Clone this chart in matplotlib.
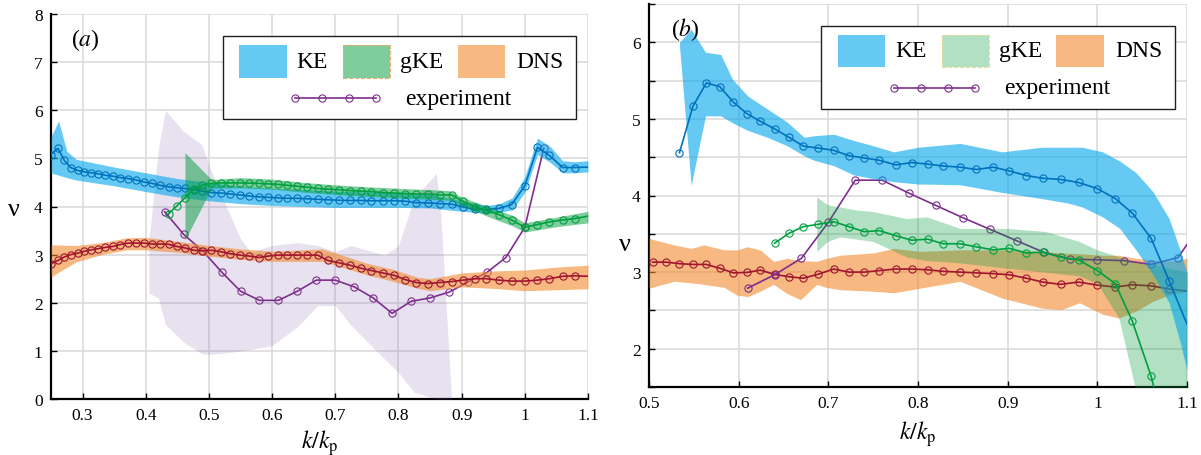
import numpy as np
import matplotlib
matplotlib.use('Agg')
import matplotlib.pyplot as plt
from matplotlib.patches import Rectangle
from matplotlib.lines import Line2D
from matplotlib.ticker import FixedLocator, FuncFormatter

plt.rcParams['font.family'] = ['Liberation Serif', 'DejaVu Serif']
plt.rcParams['mathtext.fontset'] = 'stix'

# ---------------- shared wavenumber grid (k/kp) ----------------
k = [0.250, 0.261, 0.271, 0.281, 0.292, 0.303, 0.314, 0.325, 0.336, 0.348,
     0.360, 0.372, 0.385, 0.397, 0.410, 0.423, 0.436, 0.449, 0.462, 0.476,
     0.489, 0.504, 0.519, 0.534, 0.549, 0.564, 0.579, 0.594, 0.609, 0.624,
     0.640, 0.656, 0.672, 0.688, 0.706, 0.723, 0.740, 0.757, 0.775, 0.793,
     0.811, 0.828, 0.847, 0.865, 0.884, 0.902, 0.921, 0.939, 0.959, 0.979,
     1.000, 1.020, 1.039, 1.060, 1.080, 1.100]

# ---------------- panel (a) ----------------
ke_a = [5.08, 5.21, 4.96, 4.81, 4.75, 4.72, 4.70, 4.68, 4.65, 4.63,
        4.60, 4.58, 4.55, 4.51, 4.48, 4.44, 4.41, 4.39, 4.375, 4.35,
        4.32, 4.29, 4.28, 4.26, 4.24, 4.22, 4.20, 4.19, 4.18, 4.17,
        4.17, 4.16, 4.15, 4.14, 4.13, 4.125, 4.125, 4.12, 4.12, 4.12,
        4.11, 4.08, 4.075, 4.06, 4.05, 3.99, 3.94, 3.94, 3.96, 4.04,
        4.43, 5.23, 5.06, 4.81, 4.81, 4.82]
dns_a = [2.81, 2.88, 2.95, 3.00, 3.03, 3.07, 3.10, 3.125, 3.15, 3.17,
         3.21, 3.24, 3.24, 3.24, 3.22, 3.22, 3.215, 3.17, 3.14, 3.09,
         3.08, 3.09, 3.06, 3.02, 2.99, 2.97, 2.94, 2.97, 2.99, 2.99,
         2.99, 2.99, 2.99, 2.88, 2.83, 2.78, 2.72, 2.67, 2.62, 2.57,
         2.48, 2.42, 2.40, 2.42, 2.44, 2.47, 2.50, 2.50, 2.47, 2.45,
         2.45, 2.47, 2.50, 2.55, 2.56, 2.55]
gke_a_start = 16
gke_a = [3.85, 4.01, 4.18, 4.36, 4.44, 4.48, 4.49, 4.49, 4.49, 4.486,
         4.48, 4.47, 4.46, 4.44, 4.42, 4.40, 4.375, 4.36, 4.35, 4.33,
         4.32, 4.31, 4.29, 4.28, 4.27, 4.26, 4.26, 4.24, 4.24, 4.11,
         3.99, 3.92, 3.83, 3.72, 3.57, 3.625, 3.68, 3.72, 3.75, 3.80]

exp_a_k = [0.43, 0.46, 0.49, 0.52, 0.55, 0.58, 0.61, 0.64, 0.67, 0.70, 0.73,
           0.76, 0.79, 0.82, 0.85, 0.88, 0.91, 0.94, 0.97, 1.00, 1.03]
exp_a = [3.89, 3.42, 3.08, 2.64, 2.24, 2.05, 2.05, 2.24, 2.47, 2.47, 2.33,
         2.10, 1.78, 2.03, 2.10, 2.22, 2.43, 2.63, 2.94, 3.57, 5.21]

# uncertainty bands (a)
ke_a_bk = [0.250, 0.262, 0.275, 0.29, 0.35, 0.40, 0.45, 0.50, 0.55, 0.60, 0.65,
           0.70, 0.75, 0.80, 0.85, 0.90, 0.94, 0.96, 0.98, 1.00, 1.02, 1.04,
           1.06, 1.08, 1.10]
ke_a_lo = [4.70, 4.65, 4.60, 4.55, 4.43, 4.31, 4.20, 4.12, 4.06, 4.02, 4.00,
           3.98, 3.98, 3.98, 3.97, 3.90, 3.86, 3.88, 3.93, 4.30, 5.08, 4.92,
           4.70, 4.70, 4.72]
ke_a_hi = [5.45, 5.78, 5.15, 4.98, 4.82, 4.70, 4.58, 4.50, 4.42, 4.38, 4.35,
           4.32, 4.30, 4.28, 4.25, 4.12, 4.02, 4.06, 4.18, 4.62, 5.42, 5.25,
           4.95, 4.93, 4.95]

gke_a_bk = [0.462, 0.504, 0.55, 0.60, 0.65, 0.70, 0.75, 0.80, 0.85, 0.88,
            0.90, 0.94, 0.98, 1.00, 1.05, 1.10]
gke_a_lo = [3.30, 4.38, 4.39, 4.36, 4.30, 4.25, 4.21, 4.18, 4.15, 4.13,
            4.02, 3.80, 3.60, 3.47, 3.58, 3.66]
gke_a_hi = [5.12, 4.56, 4.60, 4.57, 4.50, 4.45, 4.41, 4.38, 4.35, 4.33,
            4.20, 4.00, 3.82, 3.66, 3.78, 3.90]

dns_a_bk = [0.25, 0.26, 0.29, 0.33, 0.37, 0.40, 0.45, 0.50, 0.55, 0.60, 0.65,
            0.68, 0.72, 0.75, 0.79, 0.83, 0.85, 0.90, 0.95, 1.00, 1.05, 1.10]
dns_a_lo = [2.53, 2.62, 2.85, 3.00, 3.10, 3.10, 3.05, 2.97, 2.90, 2.86, 2.86,
            2.86, 2.70, 2.58, 2.45, 2.30, 2.25, 2.33, 2.30, 2.25, 2.27, 2.29]
dns_a_hi = [3.20, 3.20, 3.19, 3.25, 3.35, 3.36, 3.28, 3.19, 3.12, 3.07, 3.10,
            3.12, 2.95, 2.82, 2.70, 2.53, 2.50, 2.62, 2.66, 2.68, 2.74, 2.78]

exp_a_bk = [0.405, 0.420, 0.431, 0.460, 0.489, 0.500, 0.529, 0.550, 0.566,
            0.600, 0.640, 0.672, 0.700, 0.725, 0.778, 0.800, 0.825, 0.860,
            0.867, 0.873, 0.884]
exp_a_lo = [2.20, 2.10, 1.55, 1.18, 0.94, 0.93, 0.96, 1.00, 1.03, 1.11, 1.50,
            1.94, 1.94, 1.53, 0.83, 0.55, 0.14, 0.0, 0.0, 0.0, 0.0]
exp_a_hi = [3.30, 5.20, 6.00, 5.56, 5.28, 4.86, 3.96, 3.33, 3.06, 3.19, 3.25,
            3.19, 3.06, 3.19, 2.99, 3.19, 4.17, 4.69, 3.82, 2.50, 0.0]

# ---------------- panel (b) ----------------
ke_b_start = 23
ke_b = [4.56, 5.165, 5.47, 5.42, 5.22, 5.07, 4.97, 4.87, 4.76, 4.645,
        4.62, 4.59, 4.52, 4.49, 4.46, 4.40, 4.43, 4.41, 4.385, 4.37,
        4.34, 4.37, 4.32, 4.26, 4.225, 4.21, 4.17, 4.09, 3.96, 3.77,
        3.44, 2.89, 2.32]
gke_b_start = 30
gke_b = [3.377, 3.506, 3.593, 3.623, 3.658, 3.593, 3.528, 3.541, 3.476, 3.416,
         3.43, 3.37, 3.37, 3.33, 3.29, 3.31, 3.25, 3.26, 3.195, 3.16,
         3.02, 2.85, 2.36, 1.64, 0.70]
dns_b_start = 21
dns_b = [3.13, 3.13, 3.11, 3.10, 3.10, 3.05, 2.99, 2.995, 3.026, 2.97,
         2.94, 2.92, 2.97, 3.04, 3.00, 3.00, 3.02, 3.04, 3.04, 3.03,
         3.01, 3.00, 2.99, 2.98, 2.965, 2.92, 2.87, 2.84, 2.87, 2.83,
         2.805, 2.835, 2.82, 2.78, 2.75]
exp_b_k = [0.61, 0.64, 0.67, 0.70, 0.73, 0.76, 0.79, 0.82, 0.85, 0.88, 0.91,
           0.94, 0.97, 1.00, 1.03, 1.06, 1.09, 1.12]
exp_b = [2.79, 2.965, 3.18, 3.65, 4.20, 4.20, 4.03, 3.87, 3.71, 3.56, 3.41,
         3.26, 3.17, 3.16, 3.15, 3.10, 3.19, 3.70]

ke_b_bk = [0.534, 0.547, 0.563, 0.580, 0.593, 0.610, 0.632, 0.654, 0.673, 0.684,
           0.706, 0.728, 0.750, 0.773, 0.800, 0.847, 0.894, 0.938, 0.968, 0.983,
           1.006, 1.025, 1.043, 1.062, 1.080, 1.092, 1.100]
ke_b_lo = [5.95, 4.13, 5.04, 5.04, 4.95, 4.85, 4.76, 4.65, 4.52, 4.46,
           4.39, 4.27, 4.22, 4.18, 4.15, 4.14, 4.04, 3.96, 3.90, 3.85,
           3.72, 3.57, 3.29, 2.97, 2.60, 2.10, 1.72]
ke_b_hi = [6.00, 6.17, 5.87, 5.84, 5.52, 5.30, 5.13, 4.96, 4.76, 4.78,
           4.80, 4.72, 4.65, 4.57, 4.63, 4.68, 4.57, 4.63, 4.63, 4.63,
           4.57, 4.45, 4.30, 4.05, 3.70, 3.30, 3.00]

gke_b_bk = [0.687, 0.699, 0.713, 0.732, 0.750, 0.787, 0.810, 0.847, 0.900,
            0.942, 0.980, 1.000, 1.024, 1.043, 1.062, 1.080, 1.100]
gke_b_lo = [3.27, 3.40, 3.46, 3.43, 3.40, 3.20, 3.15, 3.12, 3.05, 3.00, 2.95,
            2.85, 2.40, 1.45, 0.80, 0.50, 0.30]
gke_b_hi = [3.98, 3.88, 3.85, 3.81, 3.79, 3.70, 3.72, 3.57, 3.57, 3.53, 3.40,
            3.29, 3.20, 3.12, 3.10, 3.05, 3.00]

dns_b_bk = [0.500, 0.528, 0.547, 0.561, 0.584, 0.598, 0.610, 0.624, 0.639, 0.654,
            0.669, 0.687, 0.698, 0.713, 0.750, 0.773, 0.802, 0.847, 0.894, 0.938,
            0.960, 0.980, 1.006, 1.024, 1.043, 1.062, 1.080, 1.100]
dns_b_lo = [2.79, 2.88, 2.86, 2.84, 2.80, 2.70, 2.68, 2.75, 2.84, 2.72,
            2.64, 2.84, 2.80, 2.77, 2.75, 2.73, 2.79, 2.88, 2.66, 2.53,
            2.51, 2.60, 2.45, 2.40, 2.49, 2.62, 2.70, 2.75]
dns_b_hi = [3.44, 3.355, 3.31, 3.355, 3.29, 3.29, 3.33, 3.29, 3.14, 3.18,
            3.15, 3.14, 3.18, 3.22, 3.25, 3.31, 3.27, 3.29, 3.29, 3.27,
            3.25, 3.24, 3.22, 3.22, 3.18, 3.16, 3.14, 3.18]

legend_labels = ['KE', 'gKE', 'DNS', 'experiment']

# ---------------- styles ----------------
C_KE_LINE = '#0072BD'
C_GKE_LINE = '#00A040'
C_DNS_LINE = '#A2142F'
C_EXP_LINE = '#7E2F8E'
C_KE_FILL = '#00A6EB'
C_GKE_FILL = '#009A3A'
C_DNS_FILL = '#F28A2E'
C_EXP_FILL = '#8060B0'
A_KE, A_DNS, A_EXP = 0.6, 0.6, 0.18
A_GKE_A, A_GKE_B = 0.5, 0.3

LW = 1.2
MS = 5.2
MEW = 0.8

fig = plt.figure(figsize=(12.01, 4.56), dpi=100)
axA = fig.add_axes([51 / 1201, 1 - 400 / 456, 537 / 1201, 385 / 456])
axB = fig.add_axes([649 / 1201, 1 - 388 / 456, 538 / 1201, 383 / 456])


def line(ax, x, y, color, z, nomark_last=False):
    n = len(x)
    me = list(range(n - 1)) if nomark_last else None
    ax.plot(x, y, '-', color=color, lw=LW, marker='o', ms=MS, mfc='none',
            mec=color, mew=MEW, markevery=me, zorder=z)


def band(ax, x, lo, hi, color, alpha, z):
    ax.fill_between(x, lo, hi, color=color, alpha=alpha, lw=0, zorder=z)


# ---- panel (a) ----
band(axA, exp_a_bk, exp_a_lo, exp_a_hi, C_EXP_FILL, A_EXP, 2)
line(axA, exp_a_k, exp_a, C_EXP_LINE, 3)
band(axA, dns_a_bk, dns_a_lo, dns_a_hi, C_DNS_FILL, A_DNS, 4)
line(axA, k, dns_a, C_DNS_LINE, 5, nomark_last=True)
band(axA, ke_a_bk, ke_a_lo, ke_a_hi, C_KE_FILL, A_KE, 6)
line(axA, k, ke_a, C_KE_LINE, 7, nomark_last=True)
band(axA, gke_a_bk, gke_a_lo, gke_a_hi, C_GKE_FILL, A_GKE_A, 8)
line(axA, k[gke_a_start:], gke_a, C_GKE_LINE, 9, nomark_last=True)

# ---- panel (b) ----
band(axB, dns_b_bk, dns_b_lo, dns_b_hi, C_DNS_FILL, A_DNS, 2)
line(axB, k[dns_b_start:], dns_b, C_DNS_LINE, 3, nomark_last=True)
line(axB, exp_b_k, exp_b, C_EXP_LINE, 3.5)
band(axB, gke_b_bk, gke_b_lo, gke_b_hi, C_GKE_FILL, A_GKE_B, 4)
line(axB, k[gke_b_start:gke_b_start + len(gke_b)], gke_b, C_GKE_LINE, 5)
band(axB, ke_b_bk, ke_b_lo, ke_b_hi, C_KE_FILL, A_KE, 6)
line(axB, k[ke_b_start:], ke_b, C_KE_LINE, 7, nomark_last=True)

# ---- axes styling ----
fmt = FuncFormatter(lambda v, p: f'{v:g}')
for ax in (axA, axB):
    ax.grid(True, color='#D8D8D8', lw=1.1, zorder=0)
    ax.set_axisbelow(True)
    for s in ('top', 'right'):
        ax.spines[s].set_visible(False)
    for s in ('left', 'bottom'):
        ax.spines[s].set_linewidth(1.6)
        ax.spines[s].set_color('black')
        ax.spines[s].set_zorder(1.5)
    ax.tick_params(direction='in', length=4, width=1.0, labelsize=12.5,
                   top=False, right=False, pad=6)
    ax.xaxis.set_major_formatter(fmt)

axA.set_xlim(0.25, 1.1)
axA.set_ylim(0, 8)
axA.xaxis.set_major_locator(FixedLocator([0.3, 0.4, 0.5, 0.6, 0.7, 0.8, 0.9, 1.0, 1.1]))
axA.yaxis.set_major_locator(FixedLocator([0, 1, 2, 3, 4, 5, 6, 7, 8]))
axA.yaxis.set_major_formatter(fmt)
axA.set_ylabel('ν', fontsize=19, rotation=0, va='center', ha='center')
axA.yaxis.set_label_coords(-0.069, 0.494)
axA.set_xlabel(r'$k/k_{\mathrm{p}}$', fontsize=17)
axA.xaxis.set_label_coords(0.5, -0.072)

axB.set_xlim(0.5, 1.1)
axB.set_ylim(1.5, 6.5)
axB.xaxis.set_major_locator(FixedLocator([0.5, 0.6, 0.7, 0.8, 0.9, 1.0, 1.1]))
axB.yaxis.set_major_locator(FixedLocator([1.5, 2, 2.5, 3, 3.5, 4, 4.5, 5, 5.5, 6, 6.5]))
axB.yaxis.set_major_formatter(FuncFormatter(lambda v, p: f'{v:g}' if abs(v - round(v)) < 1e-9 else ''))
axB.set_ylabel('ν', fontsize=19, rotation=0, va='center', ha='center')
axB.yaxis.set_label_coords(-0.045, 0.373)
axB.set_xlabel(r'$k/k_{\mathrm{p}}$', fontsize=17)
axB.xaxis.set_label_coords(0.5, -0.082)

axA.text(0.037, 0.935, r'($\mathit{a}$)', transform=axA.transAxes, fontsize=17,
         va='center', ha='left', zorder=30)
axB.text(0.04, 0.937, r'($\mathit{b}$)', transform=axB.transAxes, fontsize=17,
         va='center', ha='left', zorder=30)


def legend(ax, gke_alpha, gke_edge):
    ax.add_patch(Rectangle((0.3205, 0.726), 0.978 - 0.3205, 0.943 - 0.726,
                           transform=ax.transAxes, facecolor='white',
                           edgecolor='#202020', lw=1.0, zorder=20))
    py, ph = 0.835, 0.085
    specs = [(0.351, C_KE_FILL, A_KE, 0.457, None),
             (0.544, C_GKE_FILL, gke_alpha, 0.650, gke_edge),
             (0.757, C_DNS_FILL, A_DNS, 0.866, None)]
    for (px, col, al, tx, ed), lab in zip(specs, legend_labels[:3]):
        ax.add_patch(Rectangle((px, py), 0.088, ph, transform=ax.transAxes,
                               facecolor=col, alpha=al, lw=0, zorder=21))
        if ed is not None:
            ax.add_patch(Rectangle((px, py), 0.088, ph, transform=ax.transAxes,
                                   facecolor='none', edgecolor=ed, lw=0.8,
                                   ls='--', zorder=21.5))
        ax.text(tx, py + ph / 2, lab, transform=ax.transAxes, fontsize=17,
                va='center', ha='left', zorder=22)
    lx = np.linspace(0.455, 0.606, 4)
    ax.add_line(Line2D(lx, [0.781] * 4, transform=ax.transAxes, color=C_EXP_LINE,
                       lw=LW, marker='o', ms=MS, mfc='none', mec=C_EXP_LINE,
                       mew=MEW, zorder=22))
    ax.text(0.660, 0.781, legend_labels[3], transform=ax.transAxes, fontsize=17,
            va='center', ha='left', zorder=22)


legend(axA, A_GKE_A, '#E8B070')
legend(axB, A_GKE_B, '#EAD9A0')

fig.savefig('out.png', dpi=100)
